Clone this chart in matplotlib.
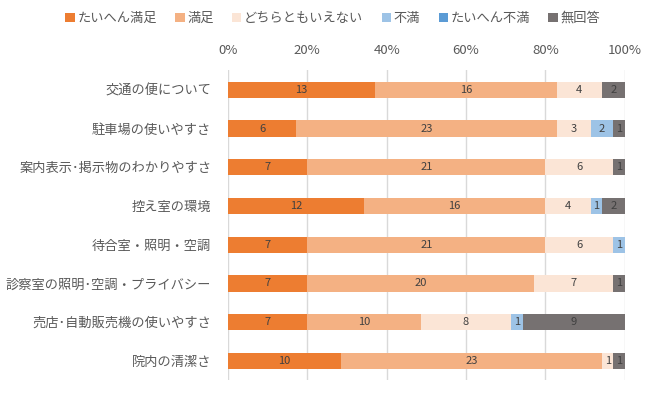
import numpy as np
import matplotlib.pyplot as plt

plt.rcParams['font.family'] = ['Noto Sans CJK JP', 'DejaVu Sans']

categories = ['交通の便について', '駐車場の使いやすさ', '案内表示･掲示物のわかりやすさ', '控え室の環境',
              '待合室・照明・空調', '診察室の照明･空調・プライバシー', '売店･自動販売機の使いやすさ', '院内の清潔さ']
series_names = ['たいへん満足', '満足', 'どちらともいえない', '不満', 'たいへん不満', '無回答']
very_satisfied = [13, 6, 7, 12, 7, 7, 7, 10]
satisfied = [16, 23, 21, 16, 21, 20, 10, 23]
neutral = [4, 3, 6, 4, 6, 7, 8, 1]
dissatisfied = [0, 2, 0, 1, 1, 0, 1, 0]
very_dissatisfied = [0, 0, 0, 0, 0, 0, 0, 0]
no_answer = [2, 1, 1, 2, 0, 1, 9, 1]

colors = ['#ED7D31', '#F4B183', '#FBE5D6', '#9DC3E6', '#5B9BD5', '#767171']
text_color = '#595959'

values = np.array([very_satisfied, satisfied, neutral, dissatisfied, very_dissatisfied, no_answer], dtype=float)
totals = values.sum(axis=0)
shares = values / totals

fig = plt.figure(figsize=(6.59, 3.96), dpi=100)
ax = fig.add_axes([0.346, 0.04, 0.602, 0.782])

y = np.arange(len(categories))
left = np.zeros(len(categories))
for i, name in enumerate(series_names):
    bars = ax.barh(y, shares[i], left=left, height=0.42, color=colors[i], label=name, zorder=2)
    for j, b in enumerate(bars):
        if values[i, j] > 0:
            ax.text(left[j] + shares[i, j] / 2, y[j], f'{int(values[i, j])}',
                    ha='center', va='center', fontsize=8, color='#404040', zorder=3)
    left += shares[i]

ax.set_xlim(0, 1)
ax.set_ylim(len(categories) - 0.5, -0.5)
ax.set_xticks(np.linspace(0, 1, 6))
ax.set_xticklabels([f'{int(v)}%' for v in np.linspace(0, 100, 6)])
ax.xaxis.tick_top()
ax.set_yticks(y)
ax.set_yticklabels(categories)
ax.tick_params(axis='both', length=0, colors=text_color, labelsize=9.5)
ax.tick_params(axis='x', pad=10)
ax.tick_params(axis='y', pad=12)
ax.grid(axis='x', color='#D9D9D9', linewidth=1, zorder=0)
for s in ax.spines.values():
    s.set_visible(False)

fig.legend(loc='center', bbox_to_anchor=(0.505, 0.953), ncol=6, frameon=False,
           handlelength=0.7, handleheight=0.7, handletextpad=0.2, columnspacing=1.4,
           fontsize=9.5, labelcolor=text_color)

fig.savefig('out.png', dpi=100)
